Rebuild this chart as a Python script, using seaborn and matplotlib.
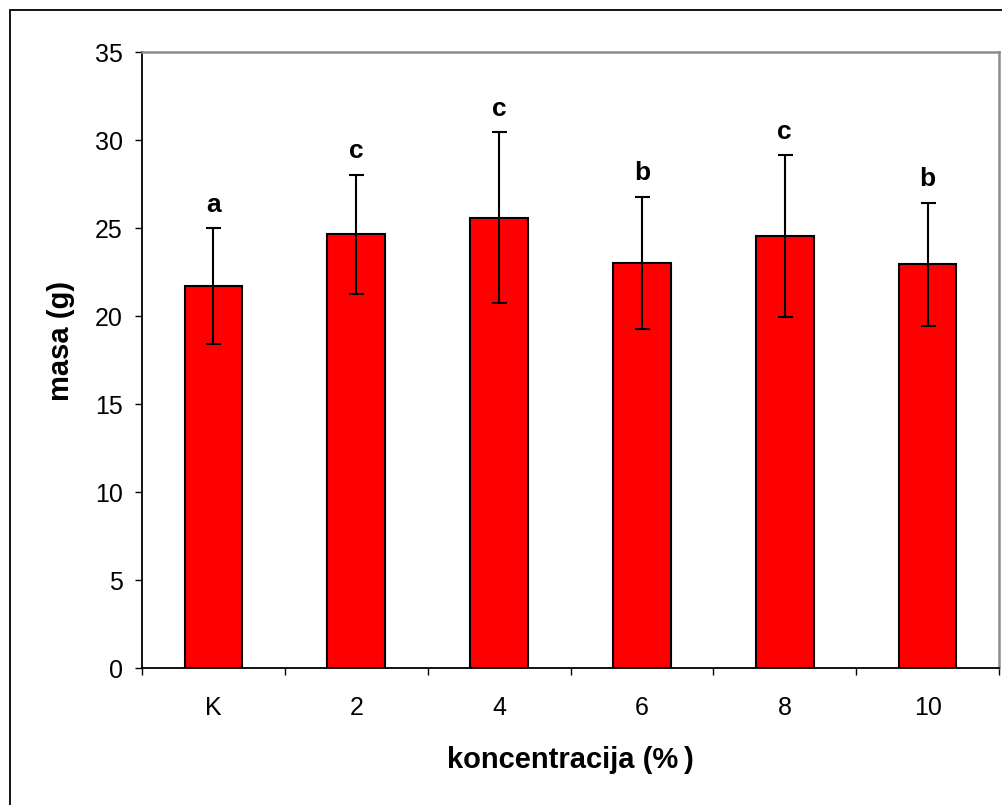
import matplotlib
matplotlib.use("Agg")
import matplotlib.pyplot as plt
from matplotlib.patches import Rectangle
from matplotlib.ticker import MultipleLocator, FixedLocator, NullFormatter
import seaborn as sns
import pandas as pd

# Mean mass per concentration group, standard deviations and significance letters
categories = ["K", "2", "4", "6", "8", "10"]
mean_mass = [21.7, 24.65, 25.6, 23.05, 24.55, 22.95]
sd_mass = [3.3, 3.4, 4.85, 3.75, 4.6, 3.5]
sig_letters = ["a", "c", "c", "b", "c", "b"]

sns.set_theme(style="white")
plt.rcParams["font.family"] = ["Liberation Sans", "DejaVu Sans"]
plt.rcParams.update({"text.color": "black", "axes.labelcolor": "black",
                     "xtick.color": "black", "ytick.color": "black"})

df = pd.DataFrame({"koncentracija": categories, "masa": mean_mass, "sd": sd_mass})

fig = plt.figure(figsize=(10.03, 8.05), dpi=100)
ax = fig.add_axes([0.1416, 0.1698, 0.8544, 0.7652])

sns.barplot(data=df, x="koncentracija", y="masa", order=categories,
            color="#ff0000", saturation=1, width=0.405, errorbar=None,
            edgecolor="black", linewidth=1.5, ax=ax)

xpos = list(range(len(categories)))
ax.errorbar(xpos, df["masa"], yerr=df["sd"], fmt="none", ecolor="black",
            elinewidth=1.5, capsize=5.4, capthick=1.5, zorder=5)

for x, m, s, lab in zip(xpos, mean_mass, sd_mass, sig_letters):
    ax.annotate(lab, xy=(x, m + s), xytext=(0, 12), textcoords="offset points",
                ha="center", va="baseline", fontsize=19, fontweight="bold",
                color="black")

ax.set_xlim(-0.5, len(categories) - 0.5)
ax.set_ylim(0, 35)
ax.yaxis.set_major_locator(MultipleLocator(5))

# Category boundary ticks carry the marks, centred minor ticks carry the labels
ax.xaxis.set_major_locator(FixedLocator([i - 0.5 for i in range(len(categories) + 1)]))
ax.xaxis.set_major_formatter(NullFormatter())
ax.xaxis.set_minor_locator(FixedLocator(xpos))
ax.set_xticklabels(categories, minor=True)
ax.tick_params(axis="x", which="major", direction="out", length=5, width=1, color="black", bottom=True)
ax.tick_params(axis="x", which="minor", length=0, pad=20, labelsize=18, bottom=True,
               labelcolor="black")
ax.tick_params(axis="y", which="major", direction="out", length=5, width=1, color="black",
               left=True, pad=9, labelsize=18, labelcolor="black")

for side in ["left", "bottom"]:
    ax.spines[side].set_color("black")
    ax.spines[side].set_linewidth(1.3)
for side in ["top", "right"]:
    ax.spines[side].set_color("#8c8c8c")
    ax.spines[side].set_linewidth(1.8)

ax.set_xlabel("koncentracija (%\u2009)", fontsize=21, fontweight="bold", color="black")
ax.set_ylabel("masa (g)", fontsize=21, fontweight="bold", color="black")
ax.xaxis.label.set_va("center")
ax.xaxis.set_label_coords(0.5, -0.149)
ax.yaxis.label.set_va("center")
ax.yaxis.set_label_coords(-0.094, 0.532)

# Chart frame around the whole figure area
fig.patches.append(Rectangle((10 / 1003, -0.05), 1.1, 1 - 10 / 805 + 0.05,
                             transform=fig.transFigure, fill=False,
                             edgecolor="black", linewidth=1.3))

fig.savefig("out.png", dpi=100, facecolor="white")
